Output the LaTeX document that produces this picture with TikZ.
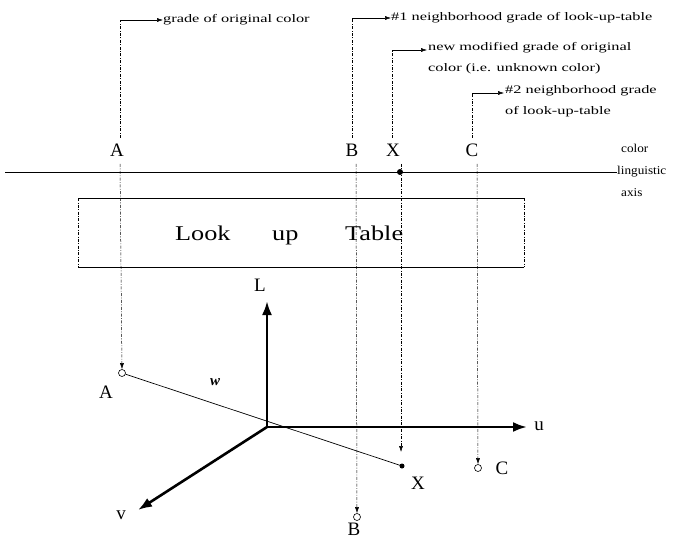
\documentclass[tikz,border=0pt]{standalone}
\usepackage{fontspec}
\setmainfont{Liberation Serif}
\newfontfamily\widefont[FakeStretch=1.42]{Liberation Serif}
\newfontfamily\midfont[FakeStretch=1.1]{Liberation Serif}
\newfontfamily\tblfont[FakeStretch=1.25]{Liberation Serif}
\usetikzlibrary{arrows.meta}
\begin{document}
\begin{tikzpicture}[x=1pt,y=-1pt,
  dsh/.style={line width=0.5pt, dash pattern=on 3pt off 1.5pt on 0.8pt off 1.5pt},
  dar/.style={dsh,-{Latex[length=6pt,width=4pt]}},
  har/.style={line width=0.5pt,-{Latex[length=6pt,width=4pt]}},
  thk/.style={line width=2.6pt,-{Latex[length=14pt,width=10pt]}},
  lbl/.style={font=\fontsize{19}{21}\selectfont, inner sep=0pt},
  note/.style={font=\widefont\fontsize{11.5}{13}\selectfont, inner sep=0pt, anchor=west},
  side/.style={font=\midfont\fontsize{12}{13}\selectfont, inner sep=0pt, anchor=west},
  notes/.style={font=\widefont\fontsize{11.5}{21}\selectfont, inner sep=0pt, anchor=north west, align=left},
  tbl/.style={font=\tblfont\fontsize{21}{24}\selectfont, inner sep=0pt, anchor=base west},
  opn/.style={circle, draw, line width=0.6pt, fill=white, minimum size=7pt, inner sep=0pt},
  fll/.style={circle, fill=black, minimum size=6pt, inner sep=0pt}]
\useasboundingbox (0,0) rectangle (679,540);
% axis
\coordinate (axL) at (5,172);
\coordinate (axR) at (617,172);
\draw[line width=0.7pt] (axL) -- (axR);
\node[fll] (xd) at (400,172) {};
\node[side] (ctxt) at (621,148) {color};
\node[side] (ltxt) at (617,172) {linguistic};
\node[side] (atxt) at (621,193) {axis};
% table
\coordinate (t1) at (78,198);
\coordinate (t2) at (524,198);
\coordinate (t3) at (524,267);
\coordinate (t4) at (78,267);
\draw[line width=0.7pt] (t1) -- (t2) (t4) -- (t3);
\draw[dsh] (t1) -- (t4) (t2) -- (t3);
\node[tbl] (tLook) at (175,240) {Look};
\node[tbl] (tUp) at (272,240) {up};
\node[tbl] (tTable) at (345,240) {Table};
% top labels
\node[lbl] (Alab) at (117,150) {A};
\node[lbl] (Blab) at (352,150) {B};
\node[lbl] (Xlab) at (393,150) {X};
\node[lbl] (Clab) at (472,150) {C};
% top notes
\coordinate (a0) at (120,20);
\node[note] (an) at (163,20) {grade of original color};
\draw[dsh] (120,138) -- (a0);
\draw[har] (a0) -- (an.west);
\coordinate (b0) at (352,18);
\node[note] (bn) at (391,18) {\#1 neighborhood grade of look-up-table};
\draw[dsh] (352,138) -- (b0);
\draw[har] (b0) -- (bn.west);
\coordinate (x0) at (392,50);
\node[notes] (xn) at (428,42) {new modified grade of original\\color (i.e. unknown color)};
\draw[dsh] (392,138) -- (x0);
\draw[har] (x0) -- (427,50);
\coordinate (c0) at (472,93);
\node[notes] (cn) at (505,85) {\#2 neighborhood grade\\of look-up-table};
\draw[dsh] (472,138) -- (c0);
\draw[har] (c0) -- (504,93);
% 3D axes
\coordinate (O) at (267,427);
\node[lbl] (Llab) at (260,285) {L};
\node[lbl] (ulab) at (539,426) {u};
\node[lbl] (vlab) at (121,515) {v};
\draw[thk] (O) -- (267,301);
\draw[thk] (O) -- (527,427);
\draw[thk] (O) -- (138,510);
% points
\node[opn] (Ap) at (122,373) {};
\node[fll, minimum size=5pt] (Xp) at (402,466) {};
\node[opn] (Bp) at (357,517) {};
\node[opn] (Cp) at (478,468) {};
\draw[line width=0.7pt] (Ap) -- (Xp.center);
\node[font=\fontsize{15}{17}\selectfont\itshape\bfseries] (w) at (215,382) {w};
\node[lbl] (Ad) at (106,392) {A};
\node[lbl] (Bd) at (354,529) {B};
\node[lbl] (Xd) at (418,483) {X};
\node[lbl] (Cd) at (502,468) {C};
% dashed drops
\draw[dar] (120,164) -- (Ap.north);
\draw[dar] (356,164) -- (Bp.north);
\draw[dar] (401,164) -- (401,452);
\draw[dar] (477,164) -- (Cp.north);
\end{tikzpicture}
\end{document}
